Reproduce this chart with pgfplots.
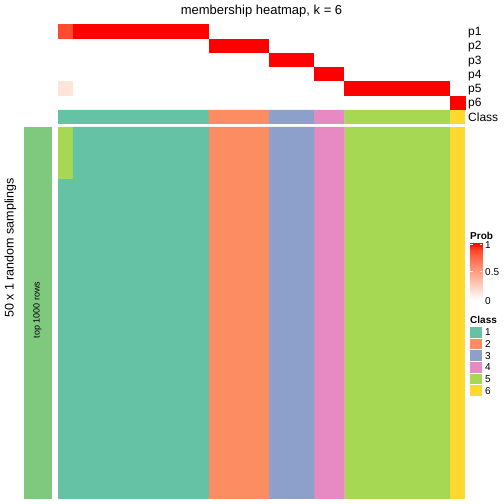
\documentclass[border=0pt]{standalone}
\usepackage{pgfplots}
\pgfplotsset{compat=1.18}
\usepackage{pgfplotstable}
\usepackage{fontspec}
\setmainfont{Liberation Sans}
\definecolor{cA}{HTML}{66C2A5}
\definecolor{cB}{HTML}{FC8D62}
\definecolor{cC}{HTML}{8DA0CB}
\definecolor{cD}{HTML}{E78AC3}
\definecolor{cE}{HTML}{A6D854}
\definecolor{cF}{HTML}{FFD92F}
\definecolor{leftg}{HTML}{7FC97F}
\pgfplotsset{colormap={prob}{rgb255(0cm)=(255,255,255) rgb255(1cm)=(255,231,222) rgb255(2cm)=(255,207,191) rgb255(4cm)=(255,158,129) rgb255(6cm)=(255,103,70) rgb255(7cm)=(255,70,40) rgb255(8cm)=(255,0,0)}}

% main heatmap: number of samplings (of 50) per class in each column
\pgfplotstableread{
x c1 c2 c3 c4 c5 c6
1 43 0 0 0 7 0
2 50 0 0 0 0 0
3 50 0 0 0 0 0
4 50 0 0 0 0 0
5 50 0 0 0 0 0
6 50 0 0 0 0 0
7 50 0 0 0 0 0
8 50 0 0 0 0 0
9 50 0 0 0 0 0
10 50 0 0 0 0 0
11 0 50 0 0 0 0
12 0 50 0 0 0 0
13 0 50 0 0 0 0
14 0 50 0 0 0 0
15 0 0 50 0 0 0
16 0 0 50 0 0 0
17 0 0 50 0 0 0
18 0 0 0 50 0 0
19 0 0 0 50 0 0
20 0 0 0 0 50 0
21 0 0 0 0 50 0
22 0 0 0 0 50 0
23 0 0 0 0 50 0
24 0 0 0 0 50 0
25 0 0 0 0 50 0
26 0 0 0 0 50 0
27 0 0 0 0 0 50
}\mainmat

\begin{document}
\begin{tikzpicture}
\useasboundingbox (0pt,0pt) rectangle (504pt,504pt);

% membership probabilities p1..p6 (one cell per column and class)
\begin{axis}[at={(58pt,480pt)}, anchor=north west, scale only axis,
  width=407pt, height=85pt, xmin=0.5, xmax=27.5, ymin=0.5, ymax=6.5,
  hide axis, colormap name=prob, point meta min=0, point meta max=1, clip=false]
\addplot[scatter, only marks, mark=square*, mark size=7.45pt,
  scatter/use mapped color={draw=mapped color, fill=mapped color},
  every mark/.append style={yscale=0.94, line width=0.4pt},
  point meta=explicit] coordinates {
(1,1)[0] (2,1)[0] (3,1)[0] (4,1)[0] (5,1)[0] (6,1)[0] (7,1)[0] (8,1)[0] (9,1)[0] (10,1)[0] (11,1)[0] (12,1)[0] (13,1)[0] (14,1)[0] (15,1)[0] (16,1)[0] (17,1)[0] (18,1)[0] (19,1)[0] (20,1)[0] (21,1)[0] (22,1)[0] (23,1)[0] (24,1)[0] (25,1)[0] (26,1)[0] (27,1)[1]
(1,2)[0.14] (2,2)[0] (3,2)[0] (4,2)[0] (5,2)[0] (6,2)[0] (7,2)[0] (8,2)[0] (9,2)[0] (10,2)[0] (11,2)[0] (12,2)[0] (13,2)[0] (14,2)[0] (15,2)[0] (16,2)[0] (17,2)[0] (18,2)[0] (19,2)[0] (20,2)[1] (21,2)[1] (22,2)[1] (23,2)[1] (24,2)[1] (25,2)[1] (26,2)[1] (27,2)[0]
(1,3)[0] (2,3)[0] (3,3)[0] (4,3)[0] (5,3)[0] (6,3)[0] (7,3)[0] (8,3)[0] (9,3)[0] (10,3)[0] (11,3)[0] (12,3)[0] (13,3)[0] (14,3)[0] (15,3)[0] (16,3)[0] (17,3)[0] (18,3)[1] (19,3)[1] (20,3)[0] (21,3)[0] (22,3)[0] (23,3)[0] (24,3)[0] (25,3)[0] (26,3)[0] (27,3)[0]
(1,4)[0] (2,4)[0] (3,4)[0] (4,4)[0] (5,4)[0] (6,4)[0] (7,4)[0] (8,4)[0] (9,4)[0] (10,4)[0] (11,4)[0] (12,4)[0] (13,4)[0] (14,4)[0] (15,4)[1] (16,4)[1] (17,4)[1] (18,4)[0] (19,4)[0] (20,4)[0] (21,4)[0] (22,4)[0] (23,4)[0] (24,4)[0] (25,4)[0] (26,4)[0] (27,4)[0]
(1,5)[0] (2,5)[0] (3,5)[0] (4,5)[0] (5,5)[0] (6,5)[0] (7,5)[0] (8,5)[0] (9,5)[0] (10,5)[0] (11,5)[1] (12,5)[1] (13,5)[1] (14,5)[1] (15,5)[0] (16,5)[0] (17,5)[0] (18,5)[0] (19,5)[0] (20,5)[0] (21,5)[0] (22,5)[0] (23,5)[0] (24,5)[0] (25,5)[0] (26,5)[0] (27,5)[0]
(1,6)[0.86] (2,6)[1] (3,6)[1] (4,6)[1] (5,6)[1] (6,6)[1] (7,6)[1] (8,6)[1] (9,6)[1] (10,6)[1] (11,6)[0] (12,6)[0] (13,6)[0] (14,6)[0] (15,6)[0] (16,6)[0] (17,6)[0] (18,6)[0] (19,6)[0] (20,6)[0] (21,6)[0] (22,6)[0] (23,6)[0] (24,6)[0] (25,6)[0] (26,6)[0] (27,6)[0]
};
\end{axis}

% class row
\begin{axis}[at={(58pt,394pt)}, anchor=north west, scale only axis,
  width=407pt, height=14pt, xmin=0.5, xmax=27.5, ymin=0, ymax=1,
  hide axis, ybar, bar width=1.015]
\addplot[fill=cA, draw=none, bar shift=0pt] coordinates {(1,1) (2,1) (3,1) (4,1) (5,1) (6,1) (7,1) (8,1) (9,1) (10,1)};
\addplot[fill=cB, draw=none, bar shift=0pt] coordinates {(11,1) (12,1) (13,1) (14,1)};
\addplot[fill=cC, draw=none, bar shift=0pt] coordinates {(15,1) (16,1) (17,1)};
\addplot[fill=cD, draw=none, bar shift=0pt] coordinates {(18,1) (19,1)};
\addplot[fill=cE, draw=none, bar shift=0pt] coordinates {(20,1) (21,1) (22,1) (23,1) (24,1) (25,1) (26,1)};
\addplot[fill=cF, draw=none, bar shift=0pt] coordinates {(27,1)};
\end{axis}

% main heatmap
\begin{axis}[at={(58pt,377pt)}, anchor=north west, scale only axis,
  width=407pt, height=372pt, xmin=0.5, xmax=27.5, ymin=0, ymax=50,
  hide axis, ybar stacked, bar width=1.015]
\addplot[fill=cA, draw=none] table[x=x, y=c1] {\mainmat};
\addplot[fill=cB, draw=none] table[x=x, y=c2] {\mainmat};
\addplot[fill=cC, draw=none] table[x=x, y=c3] {\mainmat};
\addplot[fill=cD, draw=none] table[x=x, y=c4] {\mainmat};
\addplot[fill=cE, draw=none] table[x=x, y=c5] {\mainmat};
\addplot[fill=cF, draw=none] table[x=x, y=c6] {\mainmat};
\end{axis}

% colour bar for Prob
\begin{axis}[at={(470pt,261pt)}, anchor=north west, scale only axis,
  width=12pt, height=57pt, xmin=0, xmax=1, ymin=0, ymax=1,
  hide axis, colormap name=prob, point meta min=0, point meta max=1]
\addplot[surf, shader=interp, mesh/cols=2, mesh/rows=2, point meta=y] coordinates {(0,0) (1,0) (0,1) (1,1)};
\end{axis}
\draw[white, line width=0.6pt] (470pt,259.5pt) -- (472.5pt,259.5pt) (479.5pt,259.5pt) -- (482pt,259.5pt);
\draw[white, line width=0.6pt] (470pt,232.5pt) -- (472.5pt,232.5pt) (479.5pt,232.5pt) -- (482pt,232.5pt);

% left annotation bar
\fill[leftg] (24pt,5pt) rectangle (52pt,377pt);
\node[rotate=90, font=\fontsize{9}{11}\selectfont, inner sep=0] at (37.5pt,194pt) {top 1000 rows};
\node[rotate=90, font=\fontsize{12.5}{15}\selectfont, inner sep=0] at (10.5pt,256pt) {50 x 1 random samplings};

% title
\node[anchor=base, font=\fontsize{13}{15}\selectfont, inner sep=0] at (261.5pt,489pt) {membership heatmap, k = 6};

% row labels
\begin{scope}[every node/.style={anchor=mid west, inner sep=0, font=\fontsize{12}{14}\selectfont}]
\node at (468pt,471pt) {p1};
\node at (468pt,456.8pt) {p2};
\node at (468pt,442.6pt) {p3};
\node at (468pt,428.4pt) {p4};
\node at (468pt,414.2pt) {p5};
\node at (468pt,400pt) {p6};
\node at (468pt,385pt) {Class};
\end{scope}

% legends
\node[anchor=west, inner sep=0, font=\fontsize{10}{12}\selectfont\bfseries] at (470pt,268pt) {Prob};
\begin{scope}[every node/.style={anchor=west, inner sep=0, font=\fontsize{10}{12}\selectfont}]
\node at (485pt,259pt) {1};
\node at (485pt,232pt) {0.5};
\node at (485pt,203pt) {0};
\end{scope}
\node[anchor=west, inner sep=0, font=\fontsize{10}{12}\selectfont\bfseries] at (470pt,184pt) {Class};
\fill[cA] (470pt,177pt) rectangle (482pt,166.3pt);
\fill[cB] (470pt,165.3pt) rectangle (482pt,154.7pt);
\fill[cC] (470pt,153.7pt) rectangle (482pt,143pt);
\fill[cD] (470pt,142pt) rectangle (482pt,131.3pt);
\fill[cE] (470pt,130.3pt) rectangle (482pt,119.7pt);
\fill[cF] (470pt,118.7pt) rectangle (482pt,108pt);
\begin{scope}[every node/.style={anchor=west, inner sep=0, font=\fontsize{10}{12}\selectfont}]
\node at (485pt,171.7pt) {1};
\node at (485pt,160pt) {2};
\node at (485pt,148.3pt) {3};
\node at (485pt,136.7pt) {4};
\node at (485pt,125pt) {5};
\node at (485pt,113.3pt) {6};
\end{scope}
\end{tikzpicture}
\end{document}
